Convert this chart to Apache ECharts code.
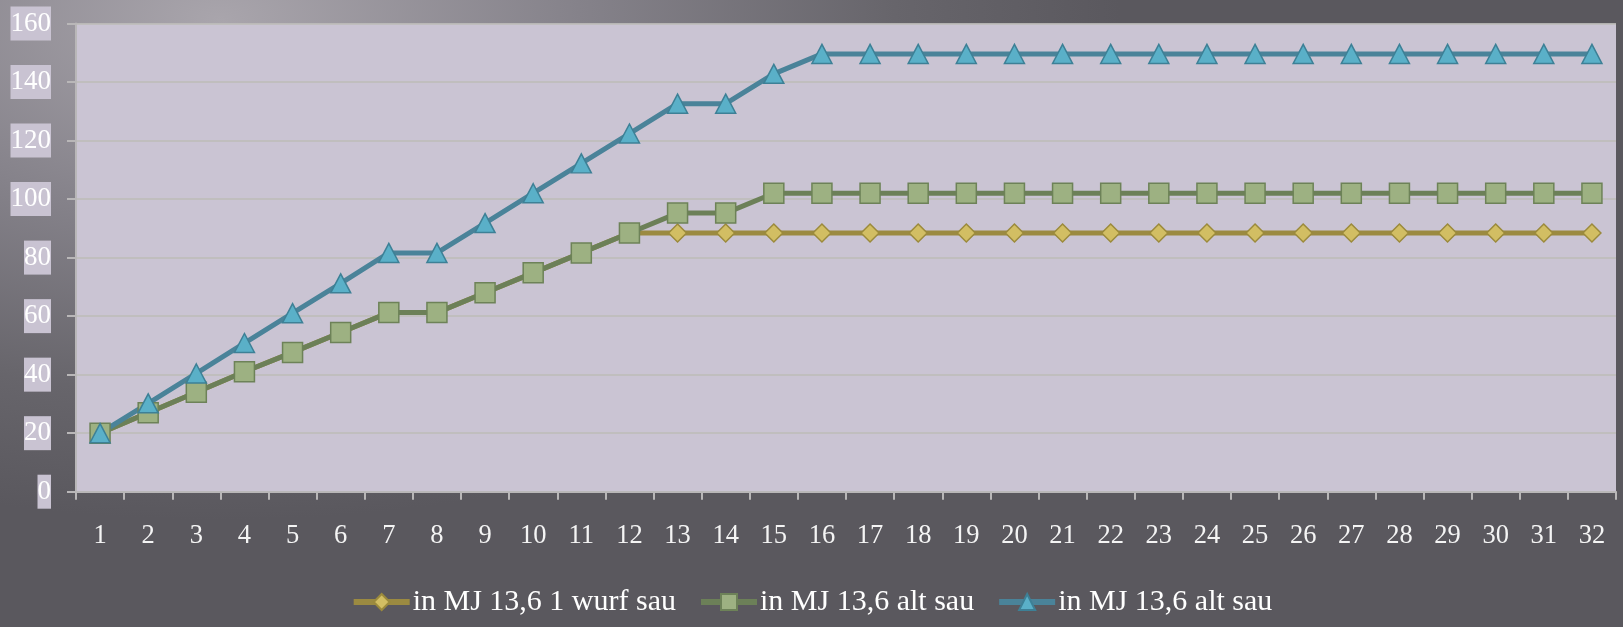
<!DOCTYPE html>
<html><head><meta charset="utf-8">
<script src="https://cdn.jsdelivr.net/npm/echarts@6/dist/echarts.min.js"></script>
<style>
html,body{margin:0;padding:0;width:1623px;height:627px;overflow:hidden;}
body{background:radial-gradient(ellipse 900px 500px at 220px 20px, #a9a5ac 0%, #85828a 40%, #67656b 75%, #5a585e 100%);}
#c{width:1623px;height:627px;}
</style></head><body><div id="c"></div>
<script>
const categories = ['1','2','3','4','5','6','7','8','9','10','11','12','13','14','15','16','17','18','19','20','21','22','23','24','25','26','27','28','29','30','31','32'];
const seriesNames = ['in MJ 13,6 1 wurf sau','in MJ 13,6 alt sau','in MJ 13,6 alt sau'];
const wurfSau = [20,27,34,41,47.6,54.4,61.2,61.2,68,74.8,81.6,88.4,88.4,88.4,88.4,88.4,88.4,88.4,88.4,88.4,88.4,88.4,88.4,88.4,88.4,88.4,88.4,88.4,88.4,88.4,88.4,88.4];
const altSauA = [20,27,34,41,47.6,54.4,61.2,61.2,68,74.8,81.6,88.4,95.2,95.2,102,102,102,102,102,102,102,102,102,102,102,102,102,102,102,102,102,102];
const altSauB = [20,30.2,40.4,50.8,61,71.2,81.6,81.6,91.8,102,112.2,122.4,132.6,132.6,142.8,149.6,149.6,149.6,149.6,149.6,149.6,149.6,149.6,149.6,149.6,149.6,149.6,149.6,149.6,149.6,149.6,149.6];
const yTicks = {min:0, max:160, interval:20};

const ids = ['s1','s2','s3'];
const font = '"Liberation Serif", "DejaVu Serif", serif';
const chart = echarts.init(document.getElementById('c'), null, {renderer:'canvas'});
function mk(i, data, symbol, size, line, fill, border){
  return {name: ids[i], type:'line', data: data, symbol: symbol, symbolSize: size,
    lineStyle:{color: line, width:5}, itemStyle:{color: fill, borderColor: border, borderWidth:1.5},
    emphasis:{disabled:true}, animation:false};
}
chart.setOption({
  backgroundColor:'transparent',
  grid:{left:76, right:7, top:23.5, bottom:135.3, show:true, backgroundColor:'#cac4d3', borderWidth:0},
  legend:{top:582, left:'center', itemWidth:56, itemHeight:20, itemGap:22,
    data: ids, formatter: n => seriesNames[ids.indexOf(n)],
    lineStyle:{width:6},
    textStyle:{color:'#ffffff', fontFamily:font, fontSize:30, padding:[0,0,0,-2]}},
  xAxis:{type:'category', data: categories, boundaryGap:true,
    axisLine:{lineStyle:{color:'#b9b7b8', width:2}},
    axisTick:{show:true, length:8, lineStyle:{color:'#b9b7b8', width:2}},
    axisLabel:{color:'#f4f4f4', fontFamily:font, fontSize:26.5, margin:31}},
  yAxis:{type:'value', min:yTicks.min, max:yTicks.max, interval:yTicks.interval,
    axisLine:{show:true, lineStyle:{color:'#b9b7b8', width:2}},
    axisTick:{show:true, length:9, lineStyle:{color:'#b9b7b8', width:2}},
    splitLine:{lineStyle:{color:'#bcbcb7', width:1.5}},
    axisLabel:{color:'#ffffff', fontFamily:font, fontSize:27, margin:25, lineHeight:34, backgroundColor:'#c9c3d2'}},
  series:[
    mk(0, wurfSau, 'diamond', [18,18], '#9b8a41', '#d2be63', '#9b8a3c'),
    mk(1, altSauA, 'rect', [20,20], '#6c8058', '#9db182', '#6d8258'),
    mk(2, altSauB, 'triangle', [20,19], '#4a8399', '#5ab0c8', '#3d8096')
  ]
});
</script></body></html>
